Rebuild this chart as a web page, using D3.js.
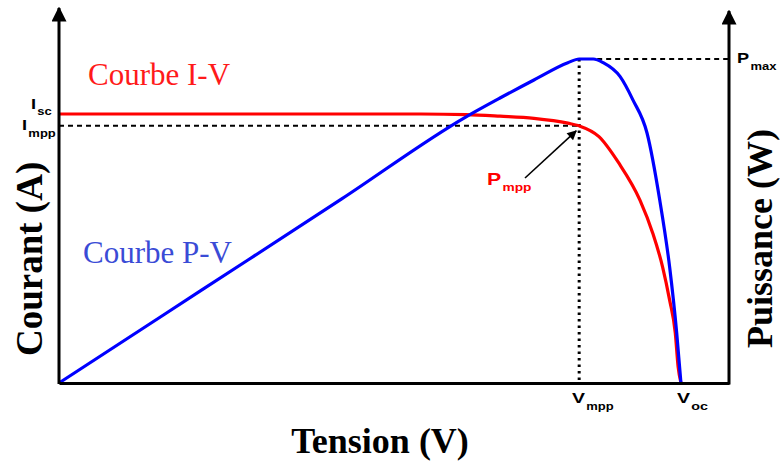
<!DOCTYPE html>
<html><head><meta charset="utf-8">
<script src="https://cdn.jsdelivr.net/npm/d3@7"></script>
<style>body{margin:0;background:#fff}svg{display:block}</style>
</head><body><svg id="c" width="780" height="462"></svg>
<script>
// I-V curve (Tension V, Courant A)
const ivV = [0, 5, 8.5, 12.8, 14.4, 15.6, 16.8, 18.0, 18.4, 19.1, 19.8, 20.55, 21.0, 21.35, 21.6, 21.8, 21.9, 22.0];
const ivI = [5.0, 5.0, 5.0, 5.0, 4.99, 4.96, 4.92, 4.83, 4.78, 4.58, 4.09, 3.40, 2.79, 2.16, 1.54, 0.93, 0.30, 0.0];
// P-V curve (Tension V, Puissance W)
const pvV = [0, 5, 10, 14.4, 15.6, 16.8, 18.0, 18.4, 18.9, 19.25, 19.85, 20.3, 20.8, 21.25, 21.6, 21.85, 22.0];
const pvP = [0, 25, 50, 72.3, 77.4, 82.3, 87.0, 88.0, 88.0, 87.0, 83.2, 76.9, 67.9, 49.7, 31.5, 13.6, 0.0];
// characteristic points
const Isc = 5.0, Impp = 4.78, Vmpp = 18.4, Voc = 22.0, Pmax = 88.0;

const svg = d3.select("#c");
const x = d3.scaleLinear([0, 23.7], [59, 729]);
const yI = d3.scaleLinear([0, Isc], [383, 114]);
const yP = d3.scaleLinear([0, Pmax], [383, 59]);

const defs = svg.append("defs");
defs.append("marker").attr("id","ah").attr("viewBox","0 0 10 10").attr("refX",9).attr("refY",5)
  .attr("markerWidth",5).attr("markerHeight",5).attr("orient","auto").attr("markerUnits","strokeWidth")
  .append("path").attr("d","M0,0L10,5L0,10Z").attr("fill","#000");
defs.append("marker").attr("id","ah2").attr("viewBox","0 0 10 10").attr("refX",9).attr("refY",5)
  .attr("markerWidth",7).attr("markerHeight",6).attr("orient","auto").attr("markerUnits","strokeWidth")
  .append("path").attr("d","M0,0L10,5L0,10Z").attr("fill","#000");

// guide lines
svg.append("line").attr("x1",x(0)).attr("x2",x(Vmpp)).attr("y1",yI(Impp)).attr("y2",yI(Impp))
  .attr("stroke","#000").attr("stroke-width",2).attr("stroke-dasharray","5,4");
svg.append("line").attr("x1",x(Vmpp)).attr("x2",x(Vmpp)).attr("y1",yP(Pmax)).attr("y2",yP(0))
  .attr("stroke","#000").attr("stroke-width",3).attr("stroke-dasharray","2.5,4");
svg.append("line").attr("x1",x(Vmpp)).attr("x2",x(23.7)).attr("y1",yP(Pmax)).attr("y2",yP(Pmax))
  .attr("stroke","#000").attr("stroke-width",2).attr("stroke-dasharray","5,4");

// curves
const iv = ivV.map((v,i)=>[v, ivI[i]]);
const pv = pvV.map((v,i)=>[v, pvP[i]]);
svg.append("path").datum(iv).attr("fill","none").attr("stroke","#ff0000").attr("stroke-width",3.2)
  .attr("d", d3.line().x(d=>x(d[0])).y(d=>yI(d[1])).curve(d3.curveMonotoneX));
svg.append("path").datum(pv).attr("fill","none").attr("stroke","#0000ff").attr("stroke-width",3.2)
  .attr("d", d3.line().x(d=>x(d[0])).y(d=>yP(d[1])).curve(d3.curveMonotoneX));

// axes
const gx = svg.append("g").attr("transform","translate(0,383)")
  .call(d3.axisBottom(x).tickValues([]).tickSizeOuter(0));
gx.select(".domain").attr("stroke-width",3);
svg.append("line").attr("x1",x(0)).attr("x2",x(0)).attr("y1",384).attr("y2",8)
  .attr("stroke","#000").attr("stroke-width",3).attr("marker-end","url(#ah)");
svg.append("line").attr("x1",x(23.7)).attr("x2",x(23.7)).attr("y1",384.5).attr("y2",11)
  .attr("stroke","#000").attr("stroke-width",3).attr("marker-end","url(#ah)");

// arrow to Pmpp
svg.append("line").attr("x1",525).attr("y1",178).attr("x2",x(Vmpp)-3).attr("y2",yI(Impp)+5)
  .attr("stroke","#000").attr("stroke-width",1.6).attr("marker-end","url(#ah2)");

// labels with subscript (stretched Arial-like bold)
function subLabel(px, py, main, sub, color, size, subSize, dy, sx){
  const g = svg.append("g").attr("transform",`translate(${px},${py}) scale(${sx},1)`);
  const t = g.append("text").attr("x",0).attr("y",0).attr("fill",color)
    .attr("font-family","Liberation Sans, Arial, sans-serif").attr("font-weight","bold")
    .attr("font-size",size);
  t.append("tspan").text(main);
  t.append("tspan").attr("font-size",subSize).attr("dx",1).attr("dy",dy).text(sub);
}
subLabel(31, 109, "I", "sc", "#000", 14, 10, 6, 1.3);
subLabel(22, 130, "I", "mpp", "#000", 14, 10, 7, 1.3);
subLabel(737, 63, "P", "max", "#000", 14, 10, 7, 1.3);
subLabel(572, 403, "V", "mpp", "#000", 15, 10, 7, 1.3);
subLabel(677, 403, "V", "oc", "#000", 15, 11, 7, 1.3);
subLabel(487, 185, "P", "mpp", "#ff0000", 17, 11, 6, 1.25);

// curve names
svg.append("text").attr("x",88).attr("y",85).attr("fill","#ff1a1a")
  .attr("font-family","Liberation Serif, Times New Roman, serif").attr("font-size",31).text("Courbe I-V");
svg.append("text").attr("x",83).attr("y",263).attr("fill","#3a4bd6")
  .attr("font-family","Liberation Serif, Times New Roman, serif").attr("font-size",31).text("Courbe P-V");

// axis titles
svg.append("text").attr("x",380).attr("y",453).attr("text-anchor","middle")
  .attr("font-family","Liberation Serif, Times New Roman, serif").attr("font-weight","bold").attr("font-size",36)
  .text("Tension (V)");
svg.append("text").attr("transform","translate(42,356) rotate(-90)").attr("text-anchor","start")
  .attr("font-family","Liberation Serif, Times New Roman, serif").attr("font-weight","bold").attr("font-size",37)
  .text("Courant (A)");
svg.append("text").attr("transform","translate(772,348) rotate(-90)").attr("text-anchor","start")
  .attr("font-family","Liberation Serif, Times New Roman, serif").attr("font-weight","bold").attr("font-size",36)
  .text("Puissance (W)");
</script></body></html>
